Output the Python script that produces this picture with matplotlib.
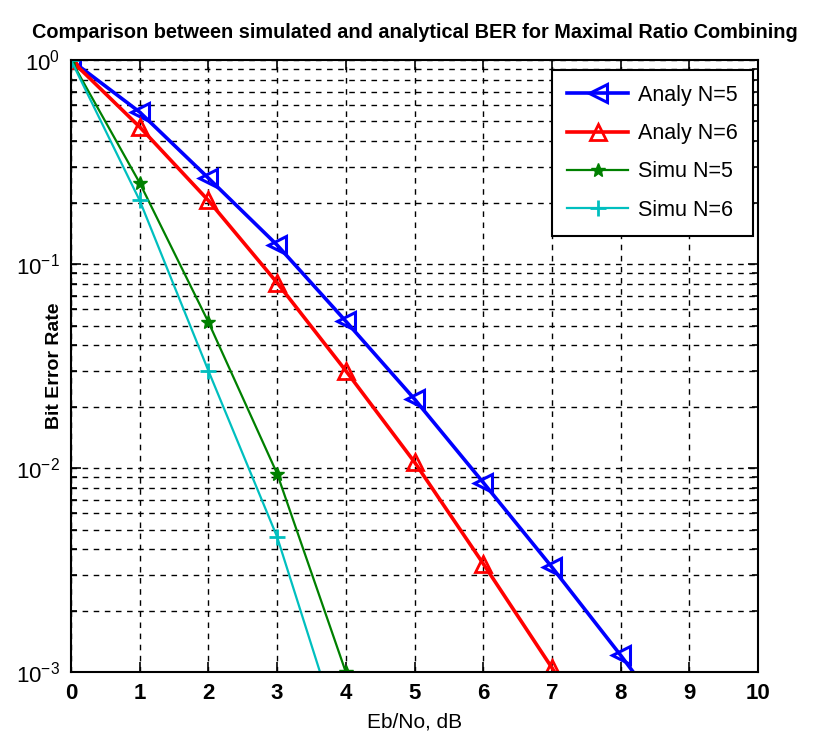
import numpy as np
import matplotlib
matplotlib.use("Agg")
import matplotlib.pyplot as plt
from matplotlib.ticker import LogLocator, NullFormatter

# Eb/No in dB
ebno = [0, 1, 2, 3, 4, 5, 6, 7, 8, 9, 10]

# BER curves (nan = no point on log axis)
analy_n5 = [1.0, 0.556, 0.264, 0.124, 0.0525, 0.0218, 0.0085, 0.00327, 0.00121, 0.00043, 0.00015]
analy_n6 = [1.0, 0.47, 0.205, 0.081, 0.030, 0.0107, 0.0034, 0.00105, 0.0003, 0.00008, 0.00002]
simu_n5 = [1.0, 0.25, 0.052, 0.0094, 0.001, np.nan, np.nan, np.nan, np.nan, np.nan, np.nan]
simu_n6 = [1.0, 0.205, 0.030, 0.0046, 0.0004, np.nan, np.nan, np.nan, np.nan, np.nan, np.nan]

labels = ["Analy N=5", "Analy N=6", "Simu N=5", "Simu N=6"]

plt.rcParams['font.family'] = ["Liberation Sans", "DejaVu Sans"]
plt.rcParams['mathtext.fontset'] = 'custom'
plt.rcParams['mathtext.rm'] = 'Liberation Sans:bold'

fig = plt.figure(figsize=(8.16, 7.51), dpi=100)
ax = fig.add_axes([0.087, 0.105, 0.842, 0.815])

ax.semilogy(ebno, analy_n5, color='#0000ff', lw=2.6, marker='<', ms=13,
            mfc='none', mew=2.2, label=labels[0])
ax.semilogy(ebno, analy_n6, color='#ff0000', lw=2.6, marker='^', ms=11,
            mfc='none', mew=2.0, label=labels[1])
ax.semilogy(ebno, simu_n5, color='#008000', lw=1.6, marker='*', ms=10,
            label=labels[2])
ax.semilogy(ebno, simu_n6, color='#00bfbf', lw=1.6, marker='+', ms=12,
            mew=2.0, label=labels[3])

ax.set_xlim(0, 10)
ax.set_ylim(1e-3, 1)
ax.set_xticks(range(0, 11))
ax.yaxis.set_major_locator(LogLocator(base=10, numticks=10))
ax.yaxis.set_minor_locator(LogLocator(base=10, subs=np.arange(2, 10), numticks=10))
ax.yaxis.set_minor_formatter(NullFormatter())

grid_style = dict(color='black', linestyle=(0, (4, 4)), linewidth=1.0)
ax.grid(True, which='major', axis='both', **grid_style)
ax.grid(True, which='minor', axis='y', **grid_style)

ax.tick_params(which='both', direction='in', top=True, right=True, width=1.2)
ax.tick_params(which='major', length=7, labelsize=16, pad=8)
ax.tick_params(which='minor', length=4)
for t in ax.get_xticklabels():
    t.set_fontweight('bold')

for s in ax.spines.values():
    s.set_linewidth(1.5)

ax.set_title("Comparison between simulated and analytical BER for Maximal Ratio Combining",
             fontsize=14.3, fontweight='bold', pad=16)
ax.set_xlabel("Eb/No, dB", fontsize=15, labelpad=6)
ax.set_ylabel("Bit Error Rate", fontsize=14, fontweight='bold', labelpad=-34)

leg = ax.legend(loc='upper right', bbox_to_anchor=(0.993, 0.984), borderaxespad=0.0,
                fontsize=15.5, fancybox=False, edgecolor='black', framealpha=1,
                handlelength=2.8, borderpad=0.7, labelspacing=0.8,
                handletextpad=0.5)
leg.get_frame().set_linewidth(1.5)

fig.savefig("out.png", dpi=100)
